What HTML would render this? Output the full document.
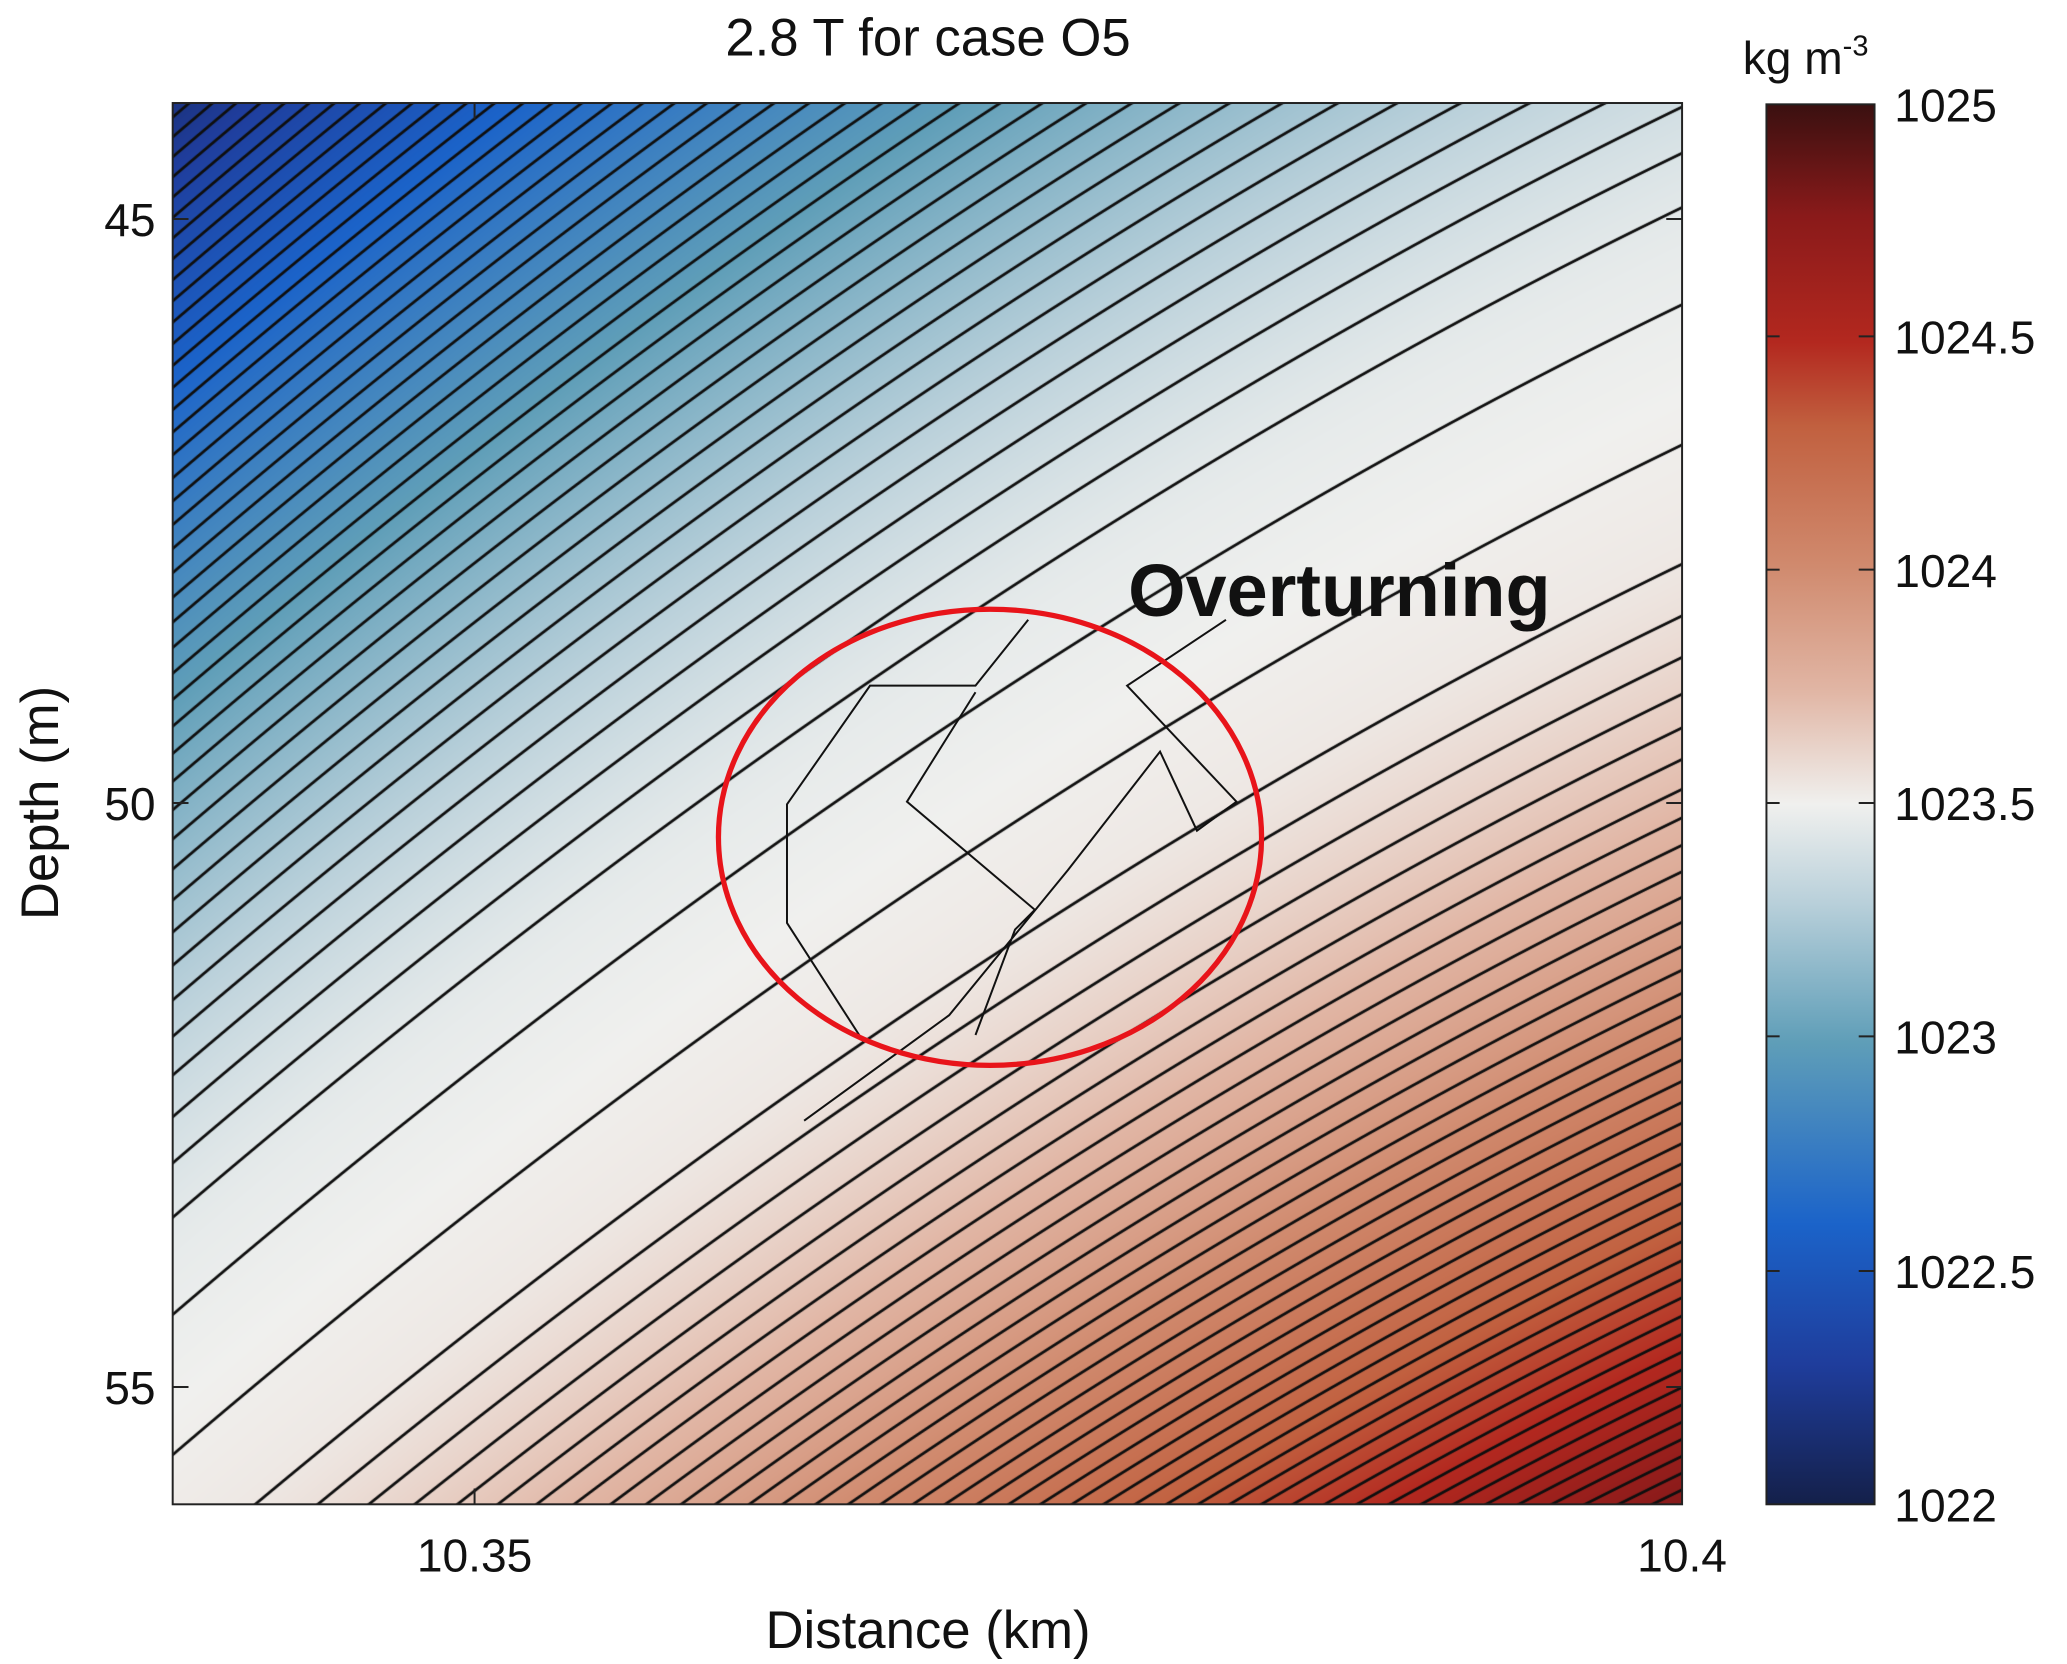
<!DOCTYPE html>
<html><head><meta charset="utf-8"><style>
html,body{margin:0;padding:0;background:#fff;}
#wrap{position:relative;width:2067px;height:1664px;overflow:hidden;}
#cv{position:absolute;left:173px;top:103px;}
svg{position:absolute;left:0;top:0;}
text{font-family:"Liberation Sans",Arial,sans-serif;fill:#111;}
</style></head><body><div id="wrap">
<canvas id="cv" width="1509" height="1402"></canvas>
<svg width="2067" height="1664" viewBox="0 0 1568 1262">
<defs><linearGradient id="cb" x1="0" y1="1" x2="0" y2="0">
<stop offset="0" stop-color="#14204a"/><stop offset="0.1" stop-color="#1f3d9c"/>
<stop offset="0.2" stop-color="#1b63c9"/><stop offset="0.33" stop-color="#5f9eb8"/>
<stop offset="0.43" stop-color="#b9d0da"/><stop offset="0.5" stop-color="#f0f0ee"/>
<stop offset="0.58" stop-color="#e1b6a5"/><stop offset="0.67" stop-color="#d08a6e"/>
<stop offset="0.77" stop-color="#c1603f"/><stop offset="0.83" stop-color="#b3281f"/>
<stop offset="0.92" stop-color="#8a1a1a"/><stop offset="1" stop-color="#3a1010"/>
</linearGradient></defs>
<rect x="131" y="78" width="1145" height="1063" fill="none" stroke="#222" stroke-width="1.5"/>
<g stroke="#222" stroke-width="1.5">
<line x1="131" y1="166" x2="143" y2="166"/><line x1="131" y1="609" x2="143" y2="609"/><line x1="131" y1="1052" x2="143" y2="1052"/>
<line x1="1276" y1="166" x2="1264" y2="166"/><line x1="1276" y1="609" x2="1264" y2="609"/><line x1="1276" y1="1052" x2="1264" y2="1052"/>
<line x1="360" y1="1141" x2="360" y2="1129"/><line x1="360" y1="78" x2="360" y2="90"/>
</g>
<path d="M655,790 L597,700 L597,610 L660,520 L740,520 L780,470 M740,785 L770,705 L785,690 L688,608 L740,525 M610,850 L720,770 L810,660 L880,570 L908,630 L938,608 L855,520 L930,470" fill="none" stroke="#111" stroke-width="1.5"/>
<ellipse cx="751" cy="635" rx="206" ry="173" fill="none" stroke="#e8141a" stroke-width="4"/>
<text x="1016" y="467" font-size="56" font-weight="bold" text-anchor="middle">Overturning</text>
<text x="704" y="42" font-size="40" text-anchor="middle">2.8 T for case O5</text>
<text x="118" y="179" font-size="35" text-anchor="end">45</text>
<text x="118" y="622" font-size="35" text-anchor="end">50</text>
<text x="118" y="1065" font-size="35" text-anchor="end">55</text>
<text x="360" y="1192" font-size="35" text-anchor="middle">10.35</text>
<text x="1276" y="1192" font-size="35" text-anchor="middle">10.4</text>
<text x="704" y="1250" font-size="40" text-anchor="middle">Distance (km)</text>
<text transform="translate(44,609) rotate(-90)" font-size="40" text-anchor="middle">Depth (m)</text>
<rect x="1340" y="79" width="82" height="1062" fill="url(#cb)" stroke="#222" stroke-width="1.5"/>
<g stroke="#222" stroke-width="1.5">
<line x1="1410" y1="255" x2="1422" y2="255"/><line x1="1410" y1="432" x2="1422" y2="432"/><line x1="1410" y1="609" x2="1422" y2="609"/><line x1="1410" y1="786" x2="1422" y2="786"/><line x1="1410" y1="964" x2="1422" y2="964"/>
<line x1="1340" y1="255" x2="1350" y2="255"/><line x1="1340" y1="432" x2="1350" y2="432"/><line x1="1340" y1="609" x2="1350" y2="609"/><line x1="1340" y1="786" x2="1350" y2="786"/><line x1="1340" y1="964" x2="1350" y2="964"/>
</g>
<g font-size="35">
<text x="1437" y="92">1025</text><text x="1437" y="268">1024.5</text><text x="1437" y="445">1024</text>
<text x="1437" y="622">1023.5</text><text x="1437" y="799">1023</text><text x="1437" y="977">1022.5</text><text x="1437" y="1154">1022</text>
</g>
<text x="1322" y="56" font-size="35">kg m<tspan font-size="22" dy="-14">-3</tspan></text>
</svg>
</div>
<script>
(function(){
var c=document.getElementById('cv'),W=c.width,H=c.height,ctx=c.getContext('2d');
var img=ctx.createImageData(W,H),D=img.data;
var stops=[[1022,[20,32,74]],[1022.3,[31,61,156]],[1022.6,[27,99,201]],[1023,[95,158,184]],[1023.3,[185,208,218]],[1023.5,[240,240,238]],[1023.75,[225,182,165]],[1024,[208,138,110]],[1024.3,[193,96,63]],[1024.5,[179,40,31]],[1024.75,[138,26,26]],[1025,[58,16,16]]];
function col(d){if(d<=stops[0][0])return stops[0][1];for(var i=1;i<stops.length;i++){if(d<=stops[i][0]){var a=stops[i-1],b=stops[i],t=(d-a[0])/(b[0]-a[0]);return [a[1][0]+(b[1][0]-a[1][0])*t,a[1][1]+(b[1][1]-a[1][1])*t,a[1][2]+(b[1][2]-a[1][2])*t];}}return stops[stops.length-1][1];}
function f(u,v){var s=v-0.93+0.72*u+0.2*u*(1-u);
 var t=Math.abs(s),e=Math.max(0,t-0.1);
 if(s<0) return 1023.5-(0.3*t+1.35*Math.pow(e,1.5));
 return 1023.5+0.3*t+1.8*Math.pow(e,1.5);}
var step=0.03;
for(var y=0;y<H;y++){var v=y/H;for(var x=0;x<W;x++){var u=x/W;var d=f(u,v);
var gx=(f(u+1/W,v)-d),gy=(f(u,v+1/H)-d);var g=Math.sqrt(gx*gx+gy*gy)/step;
var q=d/step;var fr=Math.abs(q-Math.round(q));var p=col(d);
var w=fr/(g+1e-9);var k=(w<1.0)?1:(w<1.8?(1.8-w)/0.8:0);
var i=(y*W+x)*4;D[i]=p[0]*(1-k)+15*k;D[i+1]=p[1]*(1-k)+15*k;D[i+2]=p[2]*(1-k)+15*k;D[i+3]=255;}}
ctx.putImageData(img,0,0);
})();
</script>
</body></html>
